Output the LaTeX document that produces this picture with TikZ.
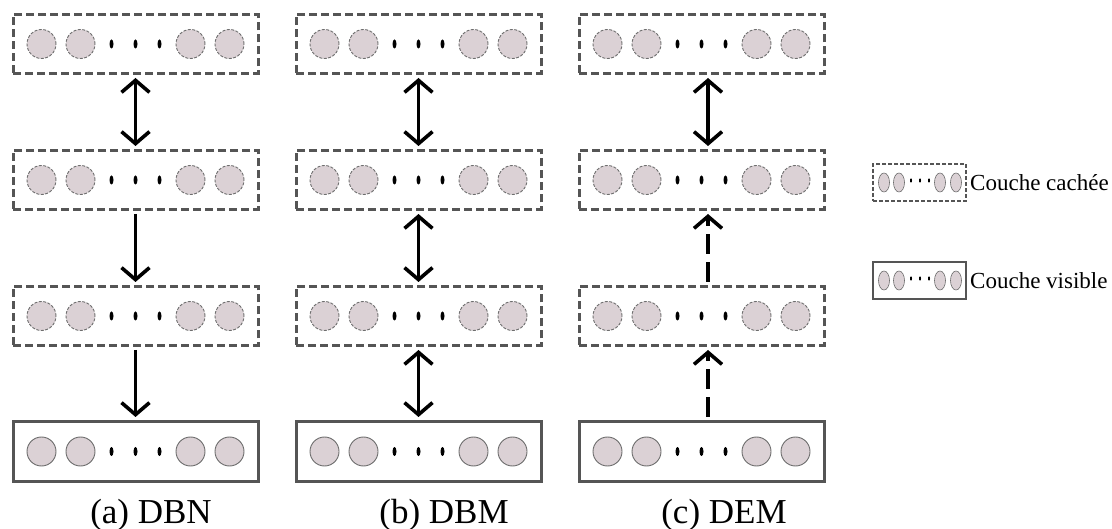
\documentclass[tikz,border=0pt]{standalone}
\usepackage{fontspec}
\setmainfont{Liberation Serif}
\usetikzlibrary{arrows.meta,shapes.geometric}

\definecolor{boxgray}{HTML}{555555}
\definecolor{unitgray}{HTML}{6E6E6E}
\definecolor{unitfill}{HTML}{DBD1D5}

\tikzset{
  hidbox/.style={draw=boxgray,line width=3pt,dash pattern=on 8pt off 4pt,minimum width=245pt,minimum height=59pt,inner sep=0pt},
  visbox/.style={draw=boxgray,line width=3pt,minimum width=245pt,minimum height=60pt,inner sep=0pt},
  hidunit/.style={circle,fill=unitfill,draw=unitgray,line width=0.9pt,dash pattern=on 3pt off 1.5pt,minimum size=29pt,inner sep=0pt},
  visunit/.style={circle,fill=unitfill,draw=unitgray,line width=0.9pt,minimum size=29pt,inner sep=0pt},
  link/.style={line width=3.6pt,shorten <=3pt,shorten >=3pt},
  tip/.tip={Straight Barb[length=12pt,width=28pt]},
  leghid/.style={draw=boxgray,line width=1.3pt,dash pattern=on 4pt off 2pt,minimum width=93pt,minimum height=37pt,inner sep=0pt},
  legvis/.style={draw=boxgray,line width=1.6pt,minimum width=93pt,minimum height=37pt,inner sep=0pt},
  legunit/.style={ellipse,fill=unitfill,draw=unitgray,line width=0.6pt,minimum width=11pt,minimum height=19pt,inner sep=0pt},
  legtext/.style={anchor=west,inner sep=0pt,font=\fontsize{23}{26}\selectfont},
  caption/.style={anchor=base,inner sep=0pt,font=\fontsize{35}{40}\selectfont}
}

\begin{document}
\begin{tikzpicture}[x=1pt,y=-1pt]
\useasboundingbox (0,0) rectangle (1112,529);

\foreach \col/\cx in {a/135.5,b/418.5,c/701.5}
{
  % hidden layers
  \foreach \row/\cy in {1/44,2/180,3/316}
  {
    \node[hidbox] (\col\row) at (\cx,\cy) {};
    \foreach \i/\dx in {1/-94,2/-55,3/55,4/94}
    \node[hidunit] (\col\row-\i) at (\cx+\dx,\cy) {};
    \foreach \dx in {-24,0,24}
    \fill (\cx+\dx,\cy) ellipse [x radius=2,y radius=4.5];
  }
  % visible layer
  \node[visbox] (\col4) at (\cx,451.5) {};
  \foreach \i/\dx in {1/-94,2/-55,3/55,4/94}
  \node[visunit] (\col4-\i) at (\cx+\dx,451.5) {};
  \foreach \dx in {-24,0,24}
  \fill (\cx+\dx,451.5) ellipse [x radius=2,y radius=4.5];
}

% (a) DBN
\draw[link,tip-tip] (a1.south) -- (a2.north);
\draw[link,-tip] (a2.south) -- (a3.north);
\draw[link,-tip] (a3.south) -- (a4.north);
% (b) DBM
\foreach \i/\j in {1/2,2/3,3/4}
\draw[link,tip-tip] (b\i.south) -- (b\j.north);
% (c) DEM
\draw[link,tip-tip] ([xshift=6.5pt]c1.south) -- ([xshift=6.5pt]c2.north);
\draw[link,-tip,dash pattern=on 20pt off 8pt] ([xshift=6.5pt]c3.north) -- ([xshift=6.5pt]c2.south);
\draw[link,-tip,dash pattern=on 20pt off 8pt] ([xshift=6.5pt]c4.north) -- ([xshift=6.5pt]c3.south);

\node[caption] (capa) at (151,523) {(a) DBN};
\node[caption] (capb) at (444,523) {(b) DBM};
\node[caption] (capc) at (724,523) {(c) DEM};

% legend
\foreach \key/\ky/\kstyle in {hid/182.5/leghid,vis/280.5/legvis}
{
  \node[\kstyle] (\key) at (919.5,\ky) {};
  \foreach \i/\kx in {1/884,2/899,3/940,4/956}
  \node[legunit] (\key-\i) at (\kx,\ky) {};
  \foreach \kx in {911,920,929}
  \fill (\kx,\ky-2) ellipse [x radius=1,y radius=2.2];
}
\node[legtext] (hidtext) at (970,182.5) {Couche cachée};
\node[legtext] (vistext) at (970,280.5) {Couche visible};

\end{tikzpicture}
\end{document}
